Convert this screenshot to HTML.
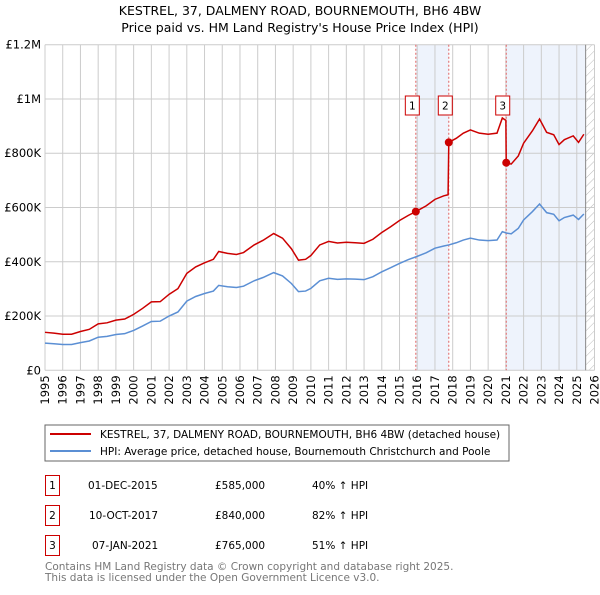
<!DOCTYPE html>
<html><head><meta charset="utf-8"><style>
body{margin:0;background:#fff;font-family:"Liberation Sans","DejaVu Sans",sans-serif;}
svg text{font-family:"DejaVu Sans","Liberation Sans",sans-serif;}
</style></head><body>
<svg id="c" width="600" height="590" xmlns="http://www.w3.org/2000/svg">
<defs><pattern id="hatch" width="6" height="6" patternUnits="userSpaceOnUse" patternTransform="rotate(45)"><line x1="0" y1="0" x2="0" y2="6" stroke="#bbb" stroke-width="1"/></pattern></defs>
<text x="300" y="15" text-anchor="middle" font-size="12.5" fill="#000">KESTREL, 37, DALMENY ROAD, BOURNEMOUTH, BH6 4BW</text>
<text x="300" y="32" text-anchor="middle" font-size="12.5" fill="#000">Price paid vs. HM Land Registry's House Price Index (HPI)</text>
<g id="plot"></g>
<rect x="45" y="425" width="464" height="36" fill="#fff" stroke="#666"/>
<line x1="50" y1="434" x2="91" y2="434" stroke="#cc0000" stroke-width="2"/>
<text x="100" y="438" font-size="10.5">KESTREL, 37, DALMENY ROAD, BOURNEMOUTH, BH6 4BW (detached house)</text>
<line x1="50" y1="451" x2="91" y2="451" stroke="#5b8fd4" stroke-width="2"/>
<text x="100" y="455" font-size="10.5">HPI: Average price, detached house, Bournemouth Christchurch and Poole</text>
<g font-size="10.5">
<rect x="45.5" y="475.5" width="14" height="20" fill="#fff" stroke="#c00"/><text x="52.5" y="489" text-anchor="middle">1</text>
<text x="88" y="489">01-DEC-2015</text><text x="215" y="489">£585,000</text><text x="312" y="489">40% ↑ HPI</text>
<rect x="45.5" y="505.5" width="14" height="20" fill="#fff" stroke="#c00"/><text x="52.5" y="519" text-anchor="middle">2</text>
<text x="89" y="519">10-OCT-2017</text><text x="215" y="519">£840,000</text><text x="312" y="519">82% ↑ HPI</text>
<rect x="45.5" y="535.5" width="14" height="20" fill="#fff" stroke="#c00"/><text x="52.5" y="549" text-anchor="middle">3</text>
<text x="92" y="549">07-JAN-2021</text><text x="215" y="549">£765,000</text><text x="312" y="549">51% ↑ HPI</text>
</g>
<text x="45" y="570" font-size="10.5" fill="#777">Contains HM Land Registry data © Crown copyright and database right 2025.</text>
<text x="45" y="581" font-size="10.5" fill="#777">This data is licensed under the Open Government Licence v3.0.</text>
</svg>
<script>
const hpiDates=[1995.0,1995.5,1996.0,1996.5,1997.0,1997.5,1998.0,1998.5,1999.0,1999.5,2000.0,2000.5,2001.0,2001.5,2002.0,2002.5,2003.0,2003.5,2004.0,2004.5,2004.8,2005.3,2005.8,2006.2,2006.8,2007.3,2007.9,2008.4,2008.9,2009.3,2009.7,2010.0,2010.5,2011.0,2011.5,2012.0,2012.5,2013.0,2013.5,2014.0,2014.5,2015.0,2015.5,2015.92,2016.5,2017.0,2017.5,2017.78,2018.2,2018.6,2019.0,2019.5,2020.0,2020.5,2020.8,2021.02,2021.3,2021.7,2022.0,2022.5,2022.9,2023.3,2023.7,2024.0,2024.3,2024.8,2025.1,2025.4];
const hpiValues=[100,98,95,95,102,108,122,125,132,135,147,163,180,181,200,215,255,272,283,292,313,308,305,310,330,342,360,348,320,290,292,302,330,339,335,337,336,334,345,363,378,394,408,418,433,450,458,462,470,480,487,480,478,480,511,506,503,523,554,585,613,581,575,551,563,572,556,576];
const priceDates=[1995.0,1995.5,1996.0,1996.5,1997.0,1997.5,1998.0,1998.5,1999.0,1999.5,2000.0,2000.5,2001.0,2001.5,2002.0,2002.5,2003.0,2003.5,2004.0,2004.5,2004.8,2005.3,2005.8,2006.2,2006.8,2007.3,2007.9,2008.4,2008.9,2009.3,2009.7,2010.0,2010.5,2011.0,2011.5,2012.0,2012.5,2013.0,2013.5,2014.0,2014.5,2015.0,2015.5,2015.92,2016.5,2017.0,2017.5,2017.74,2017.78,2018.2,2018.6,2019.0,2019.5,2020.0,2020.5,2020.8,2021.0,2021.02,2021.3,2021.7,2022.0,2022.5,2022.9,2023.3,2023.7,2024.0,2024.3,2024.8,2025.1,2025.4];
const priceValues=[140,137,133,133,143,151,171,175,185,189,206,228,252,253,280,301,357,381,396,409,438,431,427,434,462,479,504,487,448,406,409,423,462,475,469,472,470,468,483,508,529,552,571,585,606,630,643,647,840,855,874,886,874,870,874,930,921,765,760,790,837,883,926,877,868,832,850,864,840,870];
const saleLabels=["1","2","3"];
const saleDates=[2015.92,2017.78,2021.02];
const salePrices=[585,840,765];
const yTicks=[0,200,400,600,800,1000,1200];
const yTickLabels=["£0","£200K","£400K","£600K","£800K","£1M","£1.2M"];
const xYears=[1995,1996,1997,1998,1999,2000,2001,2002,2003,2004,2005,2006,2007,2008,2009,2010,2011,2012,2013,2014,2015,2016,2017,2018,2019,2020,2021,2022,2023,2024,2025,2026];
const dataEnd=2025.5;

const X0=45,X1=594.5,Y0=370.3,Y1=44.7;
const sx=v=>X0+(v-1995)/(2026-1995)*(X1-X0);
const sy=v=>Y0-v/1200*(Y0-Y1);
const NS="http://www.w3.org/2000/svg";
const g=document.getElementById('plot');
function mk(t,a,p){const e=document.createElementNS(NS,t);for(const k in a)e.setAttribute(k,a[k]);(p||g).appendChild(e);return e;}

let e;
e=mk('rect',{x:X0,y:Y1,width:X1-X0,height:Y0-Y1,fill:'#fff'});


e=mk('rect',{x:sx(saleDates[0]),y:Y1,width:sx(saleDates[1])-sx(saleDates[0]),height:Y0-Y1,fill:'#eef3fc'});


e=mk('rect',{x:sx(saleDates[2]),y:Y1,width:sx(dataEnd)-sx(saleDates[2]),height:Y0-Y1,fill:'#eef3fc'});


e=mk('rect',{x:sx(dataEnd),y:Y1,width:X1-sx(dataEnd),height:Y0-Y1,fill:'url(#hatch)'});


xYears.forEach(y=>{
  e=mk('line',{x1:sx(y),y1:Y1,x2:sx(y),y2:Y0,stroke:'#ccc','stroke-width':1});
  
  
  e=mk('text',{x:0,y:0,transform:`translate(${sx(y)+4},${Y0+5}) rotate(-90)`,'text-anchor':'end','font-size':11.5});
  e.textContent=y;
  
  
});
yTicks.forEach((v,i)=>{
  e=mk('line',{x1:X0,y1:sy(v),x2:X1,y2:sy(v),stroke:'#ccc','stroke-width':1});
  
  
  e=mk('text',{x:X0-4,y:sy(v)+4,'text-anchor':'end','font-size':11.5});
  e.textContent=yTickLabels[i];
  
  
});
e=mk('line',{x1:sx(dataEnd),y1:Y1,x2:sx(dataEnd),y2:Y0,stroke:'#888','stroke-width':1});


saleDates.forEach(d=>{
  e=mk('line',{x1:sx(d),y1:Y1,x2:sx(d),y2:Y0,stroke:'#e06060','stroke-width':1,'stroke-dasharray':'2,2'});
  
  
});
e=mk('polyline',{points:hpiDates.map((d,i)=>sx(d)+','+sy(hpiValues[i])).join(' '),fill:'none',stroke:'#5b8fd4','stroke-width':1.5});


e=mk('polyline',{points:priceDates.map((d,i)=>sx(d)+','+sy(priceValues[i])).join(' '),fill:'none',stroke:'#cc0000','stroke-width':1.5});


saleDates.forEach((d,i)=>{
  e=mk('circle',{cx:sx(d),cy:sy(salePrices[i]),r:4,fill:'#cc0000'});
  
  
  e=mk('rect',{x:sx(d)-10.5,y:96,width:14,height:19,fill:'#fff',stroke:'#c00'});
  
  
  e=mk('text',{x:sx(d)-3.5,y:109.5,'text-anchor':'middle','font-size':10.5});
  e.textContent=saleLabels[i];
  
  
});
</script>
</body></html>
